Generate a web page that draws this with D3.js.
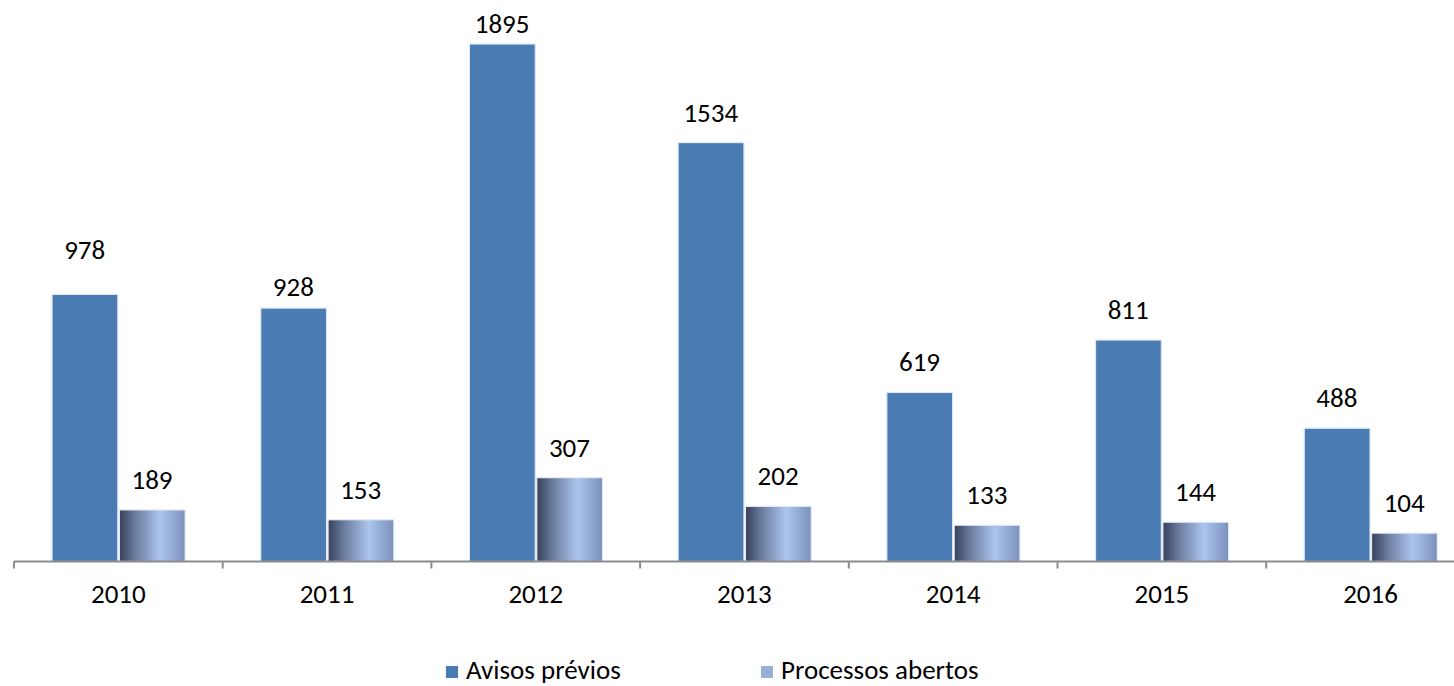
<!DOCTYPE html>
<html>
<head>
<meta charset="utf-8">
<script src="https://cdn.jsdelivr.net/npm/d3@7"></script>
<style>
  html, body { margin: 0; padding: 0; background: #ffffff; }
  svg { display: block; }
  text { font-family: Carlito, Calibri, "Liberation Sans", Arial, sans-serif; fill: #000; }
</style>
</head>
<body>
<svg id="chart" width="1454" height="686"></svg>
<script>
// ---- data ----
const years = ["2010", "2011", "2012", "2013", "2014", "2015", "2016"];
const avisosPrevios = [978, 928, 1895, 1534, 619, 811, 488];
const processosAbertos = [189, 153, 307, 202, 133, 144, 104];
const seriesNames = ["Avisos prévios", "Processos abertos"];

// ---- layout ----
const W = 1454, H = 686;
const FS = "27px";
const svg = d3.select("#chart");
const baseY = 561.5, topY = 44;
const bandStep = 208.7;
const x0 = d3.scaleBand().domain(years).range([14, 14 + bandStep * years.length]).paddingInner(0).paddingOuter(0);
const x1 = d3.scaleBand().domain(seriesNames).range([0, bandStep]).paddingInner(0).paddingOuter(0.55);
const y = d3.scaleLinear().domain([0, d3.max(avisosPrevios)]).range([baseY, topY]);

// gradient for second series
const defs = svg.append("defs");
const grad = defs.append("linearGradient").attr("id", "gGray").attr("x1", "0%").attr("x2", "100%").attr("y1", "0%").attr("y2", "0%");
grad.append("stop").attr("offset", "0%").attr("stop-color", "#36405a");
grad.append("stop").attr("offset", "25%").attr("stop-color", "#6c7ea0");
grad.append("stop").attr("offset", "62%").attr("stop-color", "#acc4ee");
grad.append("stop").attr("offset", "100%").attr("stop-color", "#7b91bb");

const rows = years.map((yr, i) => ({ year: yr, vals: [avisosPrevios[i], processosAbertos[i]] }));

// manual label nudges (as in original chart)
const labelNudge = { "2010|0": -14, "2011|0": 9, "2012|0": 10 };

const g = svg.append("g");
rows.forEach(r => {
  r.vals.forEach((v, si) => {
    const bx = x0(r.year) + x1(seriesNames[si]);
    const bw = x1.bandwidth();
    g.append("rect")
      .attr("x", bx + 1).attr("y", y(v))
      .attr("width", bw - 1.5).attr("height", baseY - y(v))
      .attr("fill", si === 0 ? "#4a7bb3" : "url(#gGray)")
      .attr("stroke", si === 0 ? "#dfe8f2" : "#e6ecf5")
      .attr("stroke-width", 1.2);
    const dy = labelNudge[r.year + "|" + si] || 0;
    g.append("text")
      .attr("x", bx + bw / 2).attr("y", y(v) - 21 + dy)
      .attr("text-anchor", "middle")
      .style("font-size", FS)
      .text(v);
  });
});

// x axis
const axisG = svg.append("g").attr("transform", `translate(0,${baseY})`);
axisG.append("line").attr("x1", 14).attr("x2", W).attr("y1", 0).attr("y2", 0)
  .attr("stroke", "#8c8c8c").attr("stroke-width", 2);
const tickPos = years.map(yr => x0(yr)).concat([x0(years[years.length - 1]) + x0.bandwidth()]);
axisG.selectAll("line.tick").data(tickPos).enter().append("line")
  .attr("class", "tick")
  .attr("x1", d => d).attr("x2", d => d).attr("y1", 0).attr("y2", 7)
  .attr("stroke", "#8c8c8c").attr("stroke-width", 2);
axisG.selectAll("text.lab").data(years).enter().append("text")
  .attr("class", "lab")
  .attr("x", d => x0(d) + x0.bandwidth() / 2)
  .attr("y", 41)
  .attr("text-anchor", "middle")
  .style("font-size", FS)
  .text(d => d);

// legend
const legend = svg.append("g");
const legendItems = [
  { name: seriesNames[0], color: "#4a7bb3", x: 446 },
  { name: seriesNames[1], color: "#96aed8", x: 761 }
];
legendItems.forEach(it => {
  legend.append("rect").attr("x", it.x).attr("y", 666).attr("width", 12).attr("height", 12).attr("fill", it.color);
  legend.append("text").attr("x", it.x + 20).attr("y", 679).style("font-size", FS).text(it.name);
});
</script>
</body>
</html>
